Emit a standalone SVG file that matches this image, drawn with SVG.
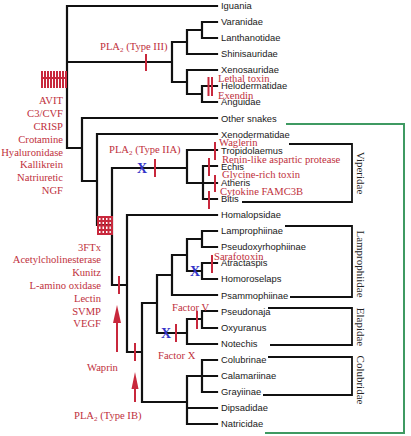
<svg xmlns="http://www.w3.org/2000/svg" width="411" height="436" viewBox="0 0 411 436">
<style>
.t{font-family:"Liberation Sans",Arial,sans-serif;font-size:9.4px;fill:#1a1a1a}
.r{font-family:"Liberation Serif","Times New Roman",serif;font-size:10.6px;fill:#c0303c}
.re{text-anchor:end}
.f{font-family:"Liberation Serif","Times New Roman",serif;font-size:11px;fill:#222;text-anchor:middle}
.tree{fill:none;stroke:#111;stroke-width:2.2;stroke-linecap:square}
.br{fill:none;stroke:#111;stroke-width:1.8}
.tick{fill:none;stroke:#c8283c;stroke-width:2}
.x{font-family:"Liberation Serif","Times New Roman",serif;font-weight:bold;font-size:14px;fill:#3434c8;text-anchor:middle}
.arr{fill:#c8283c}
</style>
<rect width="411" height="436" fill="#fff"/>
<g id="connectors">
<path class="tree" d="M67,6 V148 M67,6 H217 M67,62 H172 M67,148 H82
M172,42 V82 M172,42 H187 M187,30 V54 M187,30 H202 M202,22 V38 M202,22 H217 M202,38 H217 M187,54 H217
M172,82 H187 M187,70 V94 M187,70 H217 M187,94 H202 M202,86 V102 M202,86 H217 M202,102 H217
M82,118 V181 M82,118 H217 M82,181 H97 M97,134 V225 M97,134 H217 M97,225 H112
M112,168 V285 M112,168 H187 M187,150 V183 M187,150 H217 M187,183 H217 M203,166 V199 M203,166 H217 M203,199 H217
M112,285 H127 M127,215 V352 M127,215 H217 M127,352 H142 M142,303 V402 M142,303 H157 M142,402 H187
M157,275 V333 M157,275 H172 M157,333 H187 M172,255 V295 M172,255 H187 M172,295 H217
M187,239 V271 M187,239 H202 M202,231 V247 M202,231 H217 M202,247 H217
M187,271 H202 M202,263 V279 M202,263 H217 M202,279 H217
M187,319 V344 M187,319 H202 M202,311 V328 M202,311 H217 M202,328 H217 M187,344 H217
M187,376 V424 M187,376 H217 M202,360 V392 M202,360 H217 M202,392 H217 M187,408 H217 M187,424 H217"/>
<path class="br" d="M289,144 H352 V202 H242 M285,226 H352 V297 H290 M268,308 H352 V345 H270 M268,357 H352 V395 H263"/>
<path d="M286,124 H404 V433 H265" fill="none" stroke="#3f9a62" stroke-width="2"/>
</g>
<g id="hatches">
<path class="tick" d="M41,78 H67 M42,71 V88 M45,71 V88 M48,71 V88 M51,71 V88 M54,71 V88 M57,71 V88 M60,71 V88 M63,71 V88 M66,71 V88"/>
<path class="tick" d="M97,217 H112 M97,221 H112 M97,225.5 H112 M97,230 H112 M97,234 H112 M98,216 V235 M101.5,216 V235 M105,216 V235 M108.5,216 V235 M112,216 V235"/>
</g>
<g id="ticks">
<path class="tick" d="M146,54 V71 M208.5,77 V96 M212,77 V96 M155,159 V177 M215,142 V160 M209,158 V176 M215,175 V192 M209,191 V209 M212,255 V273 M197,311 V329 M176,324 V342 M119,276 V294 M135,343 V361"/>
</g>
<g id="losses">
<text class="x" x="142" y="173">X</text>
<text class="x" x="195" y="276">X</text>
<text class="x" x="166" y="338">X</text>
</g>
<g id="arrows">
<rect class="arr" x="116" y="320" width="2" height="32"/>
<polygon class="arr" points="117,305 113,323 121,323"/>
<rect class="arr" x="134" y="386" width="2" height="16"/>
<polygon class="arr" points="135,372 131.5,389 138.5,389"/>
</g>
<g id="taxa">
<g id="Iguania"><text class="t" x="221" y="9.3">Iguania</text></g>
<g id="Varanidae"><text class="t" x="221" y="25.3">Varanidae</text></g>
<g id="Lanthanotidae"><text class="t" x="221" y="41.3">Lanthanotidae</text></g>
<g id="Shinisauridae"><text class="t" x="221" y="57.3">Shinisauridae</text></g>
<g id="Xenosauridae"><text class="t" x="221" y="73.3">Xenosauridae</text></g>
<g id="Helodermatidae"><text class="t" x="221" y="89.3">Helodermatidae</text></g>
<g id="Anguidae"><text class="t" x="221" y="105.3">Anguidae</text></g>
<g id="Other-snakes"><text class="t" x="221" y="121.5">Other snakes</text></g>
<g id="Xenodermatidae"><text class="t" x="221" y="137.5">Xenodermatidae</text></g>
<g id="Tropidolaemus"><text class="t" x="221" y="153.5">Tropidolaemus</text></g>
<g id="Echis"><text class="t" x="221" y="169.5">Echis</text></g>
<g id="Atheris"><text class="t" x="221" y="186">Atheris</text></g>
<g id="Bitis"><text class="t" x="221" y="202">Bitis</text></g>
<g id="Homalopsidae"><text class="t" x="221" y="218">Homalopsidae</text></g>
<g id="Lamprophiinae"><text class="t" x="221" y="234">Lamprophiinae</text></g>
<g id="Pseudoxyrhophiinae"><text class="t" x="221" y="250">Pseudoxyrhophiinae</text></g>
<g id="Atractaspis"><text class="t" x="221" y="266">Atractaspis</text></g>
<g id="Homoroselaps"><text class="t" x="221" y="282">Homoroselaps</text></g>
<g id="Psammophiinae"><text class="t" x="221" y="298.5">Psammophiinae</text></g>
<g id="Pseudonaja"><text class="t" x="221" y="314.5">Pseudonaja</text></g>
<g id="Oxyuranus"><text class="t" x="221" y="330.5">Oxyuranus</text></g>
<g id="Notechis"><text class="t" x="221" y="346.5">Notechis</text></g>
<g id="Colubrinae"><text class="t" x="221" y="363">Colubrinae</text></g>
<g id="Calamariinae"><text class="t" x="221" y="379">Calamariinae</text></g>
<g id="Grayiinae"><text class="t" x="221" y="395">Grayiinae</text></g>
<g id="Dipsadidae"><text class="t" x="221" y="411">Dipsadidae</text></g>
<g id="Natricidae"><text class="t" x="221" y="427">Natricidae</text></g>
</g>
<g id="families">
<text class="f" transform="translate(356.5,173) rotate(90)">Viperidae</text>
<text class="f" transform="translate(356.5,264) rotate(90)">Lamprophiidae</text>
<text class="f" transform="translate(356.5,327) rotate(90)">Elapidae</text>
<text class="f" transform="translate(356.5,380) rotate(90)">Colubridae</text>
</g>
<g id="toxins">
<text class="r" x="100" y="49.5">PLA<tspan font-size="7" dy="2">2</tspan><tspan dy="-2"> (Type III)</tspan></text>
<text class="r" x="218" y="81.5">Lethal toxin</text>
<text class="r" x="218" y="98.5">Exendin</text>
<text class="r" x="109" y="152.5">PLA<tspan font-size="7" dy="2">2</tspan><tspan dy="-2"> (Type IIA)</tspan></text>
<text class="r" x="219" y="145.5">Waglerin</text>
<text class="r" x="222" y="162.5">Renin-like aspartic protease</text>
<text class="r" x="222" y="178">Glycine-rich toxin</text>
<text class="r" x="220" y="194.5">Cytokine FAMC3B</text>
<text class="r" x="214" y="259.5">Sarafotoxin</text>
<text class="r" x="172" y="310.5">Factor V</text>
<text class="r" x="158" y="358.5">Factor X</text>
<text class="r" x="87" y="370.5">Waprin</text>
<text class="r" x="74" y="418.5">PLA<tspan font-size="7" dy="2">2</tspan><tspan dy="-2"> (Type IB)</tspan></text>
<text class="r re" x="63" y="103.5">AVIT</text>
<text class="r re" x="63" y="116.5">C3/CVF</text>
<text class="r re" x="63" y="129.5">CRISP</text>
<text class="r re" x="63" y="142.5">Crotamine</text>
<text class="r re" x="63" y="155.5">Hyaluronidase</text>
<text class="r re" x="63" y="168">Kallikrein</text>
<text class="r re" x="63" y="180.5">Natriuretic</text>
<text class="r re" x="63" y="193.5">NGF</text>
<text class="r re" x="101" y="250.5">3FTx</text>
<text class="r re" x="101" y="263">Acetylcholinesterase</text>
<text class="r re" x="101" y="275.5">Kunitz</text>
<text class="r re" x="101" y="288.5">L-amino oxidase</text>
<text class="r re" x="101" y="301.5">Lectin</text>
<text class="r re" x="101" y="314.5">SVMP</text>
<text class="r re" x="101" y="327">VEGF</text>
</g>
</svg>
